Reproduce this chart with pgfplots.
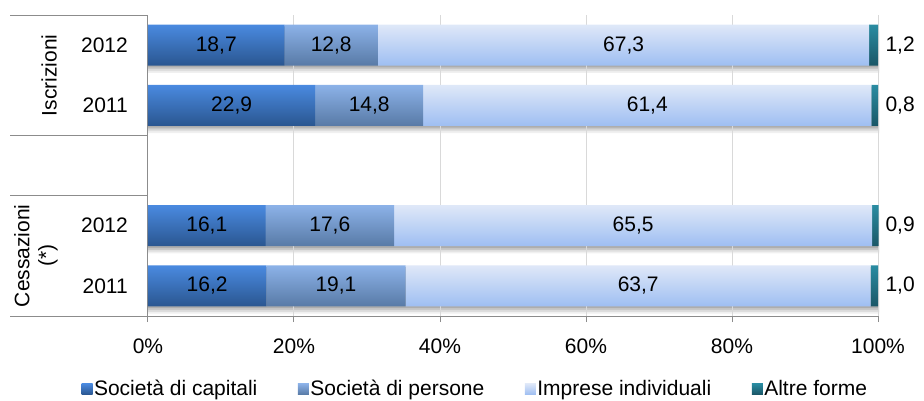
\documentclass[border=0pt]{standalone}
\usepackage{fontspec}
\setmainfont{Liberation Sans}
\usepackage{pgfplots}
\pgfplotsset{compat=1.18}
\definecolor{capT}{HTML}{4A8AE0}
\definecolor{capB}{HTML}{2A5690}
\definecolor{perT}{HTML}{8CB2E8}
\definecolor{perB}{HTML}{587AA6}
\definecolor{indT}{HTML}{DFE8F8}
\definecolor{indB}{HTML}{9EBEF2}
\definecolor{altT}{HTML}{2A8CA2}
\definecolor{altB}{HTML}{1A5666}
\definecolor{axgray}{HTML}{8C8C8C}
\definecolor{gridgray}{HTML}{D9D9D9}
\newcommand\barshading[3]{%
  \pgfdeclareverticalshading{#1}{100bp}{color(0bp)=(#2); color(25bp)=(#2); color(32.27bp)=(#3);
    color(35.68bp)=(#2); color(42.96bp)=(#3); color(57.04bp)=(#2); color(64.32bp)=(#3);
    color(67.73bp)=(#2); color(75bp)=(#3); color(100bp)=(#3)}}
\barshading{capsh}{capB}{capT}
\barshading{persh}{perB}{perT}
\barshading{indsh}{indB}{indT}
\barshading{altsh}{altB}{altT}
\begin{document}
\begin{tikzpicture}[font=\fontsize{21bp}{24bp}\selectfont]
\pgfplotsset{
  common/.style={
    scale only axis, width=730bp, height=301bp,
    xmin=0, xmax=100, ymin=-0.5, ymax=4.5,
    clip=false,
  },
}
% soft shadow under the bars, in steps of grey
\begin{axis}[common, hide axis, xbar, bar width=41bp]
\addplot[draw=none, fill=black!6, bar shift=0pt] coordinates {(100.2,-0.12) (100.2,0.88) (100.2,2.88) (100.2,3.88)};
\addplot[draw=none, fill=black!13, bar shift=0pt] coordinates {(100.15,-0.09) (100.15,0.91) (100.15,2.91) (100.15,3.91)};
\addplot[draw=none, fill=black!22, bar shift=0pt] coordinates {(100.1,-0.06) (100.1,0.94) (100.1,2.94) (100.1,3.94)};
\addplot[draw=none, fill=black!32, bar shift=0pt] coordinates {(100.05,-0.03) (100.05,0.97) (100.05,2.97) (100.05,3.97)};
\end{axis}
\begin{axis}[common, name=main,
  xbar stacked, bar width=41bp,
  axis x line*=bottom, axis y line*=left,
  axis line style={draw=axgray, line width=1bp},
  xtick={0,20,40,60,80,100},
  xticklabel={\pgfmathprintnumber{\tick}\%},
  xtick style={draw=axgray, line width=1bp},
  tick align=outside, major tick length=6bp,
  xmajorgrids, grid style={draw=gridgray, line width=1bp},
  ytick={0,1,3,4}, yticklabels={2011,2012,2011,2012},
  ytick style={draw=none},
  yticklabel style={inner sep=0pt, xshift=-14bp},
  xticklabel style={yshift=-13bp},
  /pgf/number format/assume math mode=true,
  legend columns=4,
  legend style={at={(0.5,0)}, anchor=center, yshift=-73bp, xshift=-38bp,
    draw=none, fill=none, inner sep=0pt,
    nodes={inner sep=1.5bp},
    /tikz/every even column/.append style={column sep=39bp}},
  legend image code/.code={\path[#1, draw=none] (0bp,-5.5bp) rectangle (11bp,5.5bp);},
]
\addlegendimage{top color=capT, bottom color=capB}
\addlegendimage{top color=perT, bottom color=perB}
\addlegendimage{top color=indT, bottom color=indB}
\addlegendimage{top color=altT, bottom color=altB}
\addplot[draw=none, shading=capsh] coordinates {(16.2,0) (16.1,1) (22.9,3) (18.7,4)};
\addplot[draw=none, shading=persh] coordinates {(19.1,0) (17.6,1) (14.8,3) (12.8,4)};
\addplot[draw=none, shading=indsh] coordinates {(63.7,0) (65.5,1) (61.4,3) (67.3,4)};
\addplot[draw=none, shading=altsh] coordinates {(1.0,0) (0.9,1) (0.9,3) (1.2,4)};
\legend{Società di capitali, Società di persone, Imprese individuali, Altre forme}
\draw[draw=axgray, line width=1bp] (axis cs:0,4.5) -- ([xshift=-138bp]axis cs:0,4.5);
\draw[draw=axgray, line width=1bp] (axis cs:0,2.5) -- ([xshift=-138bp]axis cs:0,2.5);
\draw[draw=axgray, line width=1bp] (axis cs:0,1.5) -- ([xshift=-138bp]axis cs:0,1.5);
\draw[draw=axgray, line width=1bp] (axis cs:0,-0.5) -- ([xshift=-138bp]axis cs:0,-0.5);
\node[rotate=90] at ([xshift=-99bp]axis cs:0,3.5) {Iscrizioni};
\node[rotate=90, align=center] at ([xshift=-112bp]axis cs:0,0.5) {Cessazioni\\(*)};
\coordinate (bbsw) at ([xshift=-148bp, yshift=-85bp]rel axis cs:0,0);
\coordinate (bbne) at ([xshift=46bp, yshift=15bp]rel axis cs:1,1);
\end{axis}
\begin{axis}[common, hide axis,
  nodes near coords, point meta=explicit symbolic,
  every node near coord/.style={anchor=center, font=\fontsize{21bp}{24bp}\selectfont, text=black},
]
\addplot[draw=none, mark=none] coordinates {
  (8.1,0) [16,2] (8.05,1) [16,1] (11.45,3) [22,9] (9.35,4) [18,7]
  (25.75,0) [19,1] (24.9,1) [17,6] (30.3,3) [14,8] (25.1,4) [12,8]
  (67.15,0) [63,7] (66.45,1) [65,5] (68.4,3) [61,4] (65.15,4) [67,3]
};
\addplot[draw=none, mark=none, every node near coord/.append style={anchor=west, xshift=4bp}] coordinates {
  (100,0) [1,0] (100,1) [0,9] (100,3) [0,8] (100,4) [1,2]
};
\end{axis}
\pgfresetboundingbox
\useasboundingbox (bbsw) rectangle (bbne);
\end{tikzpicture}
\end{document}
